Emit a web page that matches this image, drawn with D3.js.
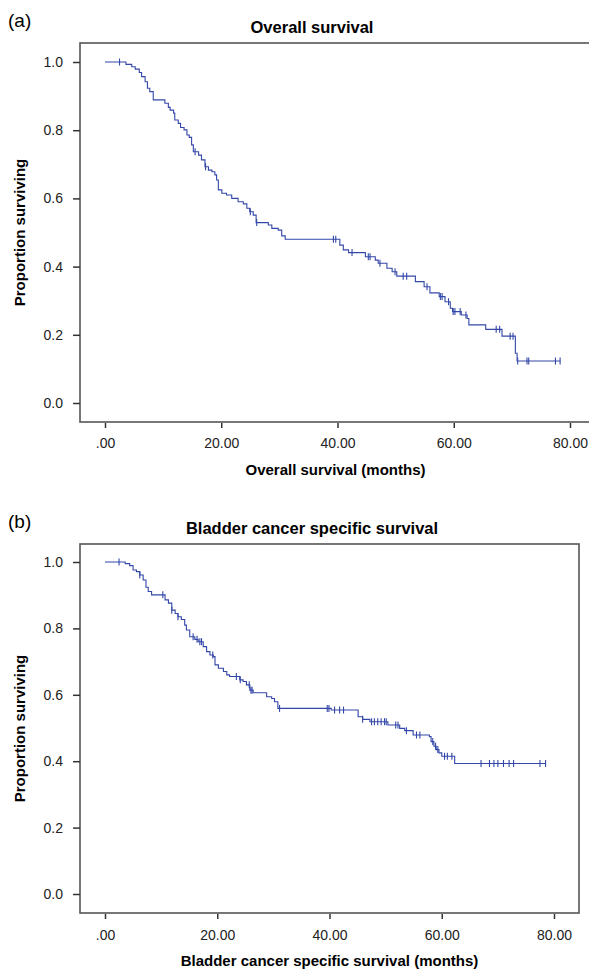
<!DOCTYPE html>
<html>
<head>
<meta charset="utf-8">
<script src="https://cdn.jsdelivr.net/npm/d3@7"></script>
<style>
  body { margin: 0; background: #fff; }
  svg { display: block; font-family: "Liberation Sans", Arial, sans-serif; }
  .tick text { font-size: 14px; fill: #222; }
  .tick line { stroke: #333; stroke-width: 1.5; }
  .km { fill: none; stroke: #3347a8; stroke-width: 1.1; }
  .cens { stroke: #3347a8; stroke-width: 1.1; }
</style>
</head>
<body>
<svg id="chart" width="589" height="971"></svg>
<script>
// shared ticks
const xTicks = [0, 20, 40, 60, 80];
const yTicks = [0, 0.2, 0.4, 0.6, 0.8, 1.0];

// (a) overall survival: step times (months) and survival after each step
const osTimes = [0, 3.6, 4.6, 5.2, 5.9, 6.3, 6.9, 7.3, 7.7, 8.3, 10.3, 10.9, 11.2, 11.8, 12.0, 12.6,
    13.0, 13.6, 14.1, 14.5, 14.9, 15.2, 16.1, 16.6, 17.2, 17.8, 18.4, 18.9, 19.2, 19.5, 20.1, 20.9,
    21.8, 22.9, 23.8, 24.4, 24.9, 25.5, 26.0, 28.1, 28.7, 29.8, 30.4, 31.0, 40.4, 41.0, 41.9, 44.8,
    46.5, 47.0, 48.5, 49.4, 50.2, 53.4, 54.9, 55.9, 57.5, 58.5, 59.4, 59.8, 61.3, 62.3, 62.6, 65.5,
    68.3, 70.6, 70.9];
const osSurv = [1.0, 0.993, 0.986, 0.979, 0.969, 0.957, 0.942, 0.923, 0.913, 0.889, 0.879, 0.867, 0.859, 0.850, 0.830, 0.820,
    0.808, 0.801, 0.786, 0.779, 0.757, 0.737, 0.727, 0.713, 0.693, 0.683, 0.678, 0.669, 0.654, 0.625, 0.615, 0.610,
    0.600, 0.590, 0.584, 0.571, 0.561, 0.551, 0.529, 0.522, 0.512, 0.507, 0.490, 0.480, 0.463, 0.449, 0.441, 0.429,
    0.419, 0.410, 0.395, 0.385, 0.372, 0.356, 0.341, 0.323, 0.312, 0.297, 0.278, 0.268, 0.258, 0.248, 0.229, 0.216,
    0.196, 0.146, 0.123];
const osCensored = [2.5, 15.5, 17.3, 25.0, 26.1, 39.3, 39.7, 42.5, 45.3, 45.6, 47.3, 49.9, 51.3, 51.9, 55.4,
    57.7, 58.0, 59.1, 59.9, 60.2, 61.1, 62.1, 67.3, 67.9, 69.7, 70.2, 71.0, 72.6, 72.9, 77.5, 78.3];

// (b) bladder cancer specific survival
const cssTimes = [0, 3.6, 4.4, 5.0, 5.6, 6.2, 6.8, 7.3, 7.7, 8.3, 10.7, 11.3, 11.9, 12.5, 13.0, 13.6,
    14.2, 14.5, 15.1, 16.0, 16.6, 17.5, 18.1, 18.7, 19.3, 19.6, 20.2, 21.1, 21.7, 22.2, 24.0, 24.6,
    25.2, 25.8, 26.4, 28.8, 29.7, 30.2, 30.8, 40.3, 45.1, 45.9, 47.2, 50.4, 52.5, 53.4, 54.9, 57.8,
    58.1, 58.6, 59.0, 59.5, 60.0, 62.3];
const cssSurv = [1.0, 0.995, 0.989, 0.976, 0.971, 0.961, 0.946, 0.924, 0.911, 0.901, 0.886, 0.876, 0.855, 0.845, 0.835, 0.827,
    0.810, 0.795, 0.775, 0.767, 0.760, 0.745, 0.730, 0.720, 0.715, 0.690, 0.680, 0.670, 0.660, 0.655, 0.645, 0.640,
    0.630, 0.614, 0.606, 0.594, 0.589, 0.579, 0.559, 0.554, 0.534, 0.526, 0.519, 0.509, 0.499, 0.492, 0.479, 0.474,
    0.459, 0.445, 0.435, 0.425, 0.415, 0.393];
const cssCensored = [2.5, 6.2, 10.3, 11.9, 13.0, 15.7, 16.4, 16.9, 17.2, 19.2, 23.4, 24.1, 25.7, 26.0, 26.2, 31.1,
    39.6, 39.9, 40.9, 41.8, 42.5, 45.9, 47.5, 48.0, 48.6, 49.2, 49.8, 50.1, 51.8, 52.2, 53.7, 55.5, 56.1,
    58.4, 58.9, 59.3, 60.5, 61.0, 61.8, 67.0, 68.5, 69.3, 70.0, 71.0, 72.0, 72.8, 77.5, 78.5];

const svg = d3.select("#chart");

// survival value at time t (step function)
function survAt(times, surv, t) {
    const i = d3.bisectRight(times, t) - 1;
    return surv[Math.max(i, 0)];
}

function plotKM(p) {
    const g = svg.append('g');

    const xScale = d3.scaleLinear().domain([0, 80]).range([p.x0, p.x80]);
    const yScale = d3.scaleLinear().domain([0, 1]).range([p.y0, p.y1]);

    // panel letter and title
    g.append('text')
        .attr('x', 8)
        .attr('y', p.top - 16)
        .style('font-size', '19px')
        .text(p.letter);

    g.append('text')
        .attr('x', 312)
        .attr('y', p.top - 10)
        .attr('text-anchor', 'middle')
        .style('font-size', '16.5px')
        .style('font-weight', 'bold')
        .text(p.title);

    // frame
    g.append('rect')
        .attr('x', p.left)
        .attr('y', p.top)
        .attr('width', p.right - p.left)
        .attr('height', p.bottom - p.top)
        .attr('fill', 'none')
        .attr('stroke', '#555')
        .attr('stroke-width', 1.6);

    // x-axis //
    g.append('g')
        .attr('transform', `translate(0, ${p.bottom})`)
        .call(d3.axisBottom(xScale).tickValues(xTicks).tickSize(6).tickPadding(p.xPad)
            .tickFormat((d) => d === 0 ? '.00' : d.toFixed(2)))
        .call((a) => a.select('.domain').remove())
        .selectAll('.tick line').attr('y1', 1);

    g.append('text')
        .attr('x', (p.left + p.right) / 2)
        .attr('y', p.bottom + 53)
        .attr('text-anchor', 'middle')
        .style('font-size', '15px')
        .style('font-weight', 'bold')
        .text(p.xLabel);

    // y-axis //
    g.append('g')
        .attr('transform', `translate(${p.left}, 0)`)
        .call(d3.axisLeft(yScale).tickValues(yTicks).tickSize(7).tickPadding(10)
            .tickFormat((d) => d.toFixed(1)))
        .call((a) => a.select('.domain').remove());

    g.append('text')
        .attr('transform', `translate(25, ${(p.top + p.bottom) / 2}) rotate(-90)`)
        .attr('text-anchor', 'middle')
        .style('font-size', '15px')
        .style('font-weight', 'bold')
        .text('Proportion surviving');

    // step curve, extended to last censored case
    const pts = p.times.map((t, i) => [t, p.surv[i]]);
    const tEnd = d3.max(p.censored);
    pts.push([tEnd, survAt(p.times, p.surv, tEnd)]);

    g.append('path')
        .datum(pts)
        .attr('class', 'km')
        .attr('d', d3.line()
            .x((d) => xScale(d[0]))
            .y((d) => yScale(d[1]))
            .curve(d3.curveStepAfter));

    // censor marks
    g.selectAll('line.cens')
        .data(p.censored)
        .enter()
        .append('line')
        .attr('class', 'cens')
        .attr('x1', (d) => xScale(d))
        .attr('x2', (d) => xScale(d))
        .attr('y1', (d) => yScale(survAt(p.times, p.surv, d)) - 3.5)
        .attr('y2', (d) => yScale(survAt(p.times, p.surv, d)) + 3.5);
}

plotKM({
    letter: '(a)', title: 'Overall survival', xLabel: 'Overall survival (months)',
    left: 80, right: 591, top: 43, bottom: 422,
    x0: 105, x80: 570, y0: 403, y1: 62, xPad: 10,
    times: osTimes, surv: osSurv, censored: osCensored
});

plotKM({
    letter: '(b)', title: 'Bladder cancer specific survival', xLabel: 'Bladder cancer specific survival (months)',
    left: 80, right: 579, top: 544, bottom: 913,
    x0: 105, x80: 554, y0: 894, y1: 562, xPad: 11,
    times: cssTimes, surv: cssSurv, censored: cssCensored
});
</script>
</body>
</html>
